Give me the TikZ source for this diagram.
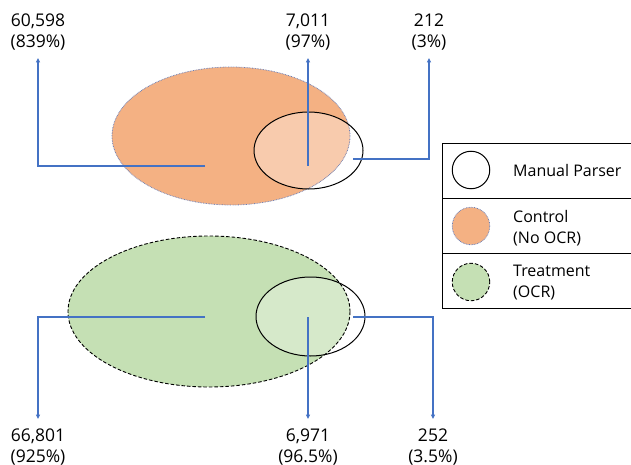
\documentclass[tikz,border=0pt]{standalone}
\usepackage{fontspec}
\setmainfont{Open Sans}
\usetikzlibrary{arrows.meta}
\definecolor{orangefill}{HTML}{F4B183}
\definecolor{orangelight}{HTML}{F8CBAD}
\definecolor{greenfill}{HTML}{C5E0B4}
\definecolor{greenlight}{HTML}{D6E9CA}
\definecolor{arrowblue}{HTML}{4472C4}
\definecolor{dotblue}{HTML}{6A7FB8}
\tikzset{
  arr/.style={draw=arrowblue, line width=1.1pt, -{Triangle[length=4.5pt,width=4pt]}},
  lab/.style={align=center, inner sep=0pt, font=\fontsize{17.5}{21}\selectfont},
  leg/.style={align=left, anchor=west, inner sep=0pt, font=\fontsize{16}{21}\selectfont},
  ctrlborder/.style={draw=dotblue, line width=0.8pt, dash pattern=on 0.7pt off 0.9pt},
  treatborder/.style={draw=black, line width=0.9pt, dash pattern=on 3.5pt off 2pt},
  parser/.style={draw=black, line width=1pt},
}
\begin{document}
\begin{tikzpicture}[x=1pt,y=-1pt]
\useasboundingbox (0,0) rectangle (631,465);
% ---------- Control (top) ----------
\coordinate (oc) at (231,136);
\coordinate (mc) at (308.5,150.5);
\fill[orangefill] (oc) ellipse [x radius=119, y radius=69];
\begin{scope}
  \clip (oc) ellipse [x radius=119, y radius=69];
  \fill[orangelight] (mc) ellipse [x radius=54.5, y radius=38.5];
\end{scope}
\path[ctrlborder] (oc) ellipse [x radius=119, y radius=69];
\path[parser] (mc) ellipse [x radius=54.5, y radius=38.5];
% ---------- Treatment (bottom) ----------
\coordinate (gc) at (209,311.5);
\coordinate (nc) at (310.5,316.5);
\fill[greenfill] (gc) ellipse [x radius=141, y radius=75.5];
\begin{scope}
  \clip (gc) ellipse [x radius=141, y radius=75.5];
  \fill[greenlight] (nc) ellipse [x radius=54.5, y radius=39.5];
\end{scope}
\path[treatborder] (gc) ellipse [x radius=141, y radius=75.5];
\path[parser] (nc) ellipse [x radius=54.5, y radius=39.5];
% ---------- top labels ----------
\node[lab] (l1) at (38,31.6) {60,598\\(839\%)};
\node[lab] (l2) at (308,31.6) {7,011\\(97\%)};
\node[lab] (l3) at (429,31.6) {212\\(3\%)};
\coordinate (t1) at (38,58);
\coordinate (t2) at (308,58);
\coordinate (t3) at (429,58);
\coordinate (s1) at (205,166);
\coordinate (s2) at (308,166);
\coordinate (s3) at (353,159);
\draw[arr] (s1) -| (t1);
\draw[arr] (s2) -- (t2);
\draw[arr] (s3) -| (t3);
% ---------- bottom labels ----------
\node[lab] (b1) at (38,446.7) {66,801\\(925\%)};
\node[lab] (b2) at (308,446.7) {6,971\\(96.5\%)};
\node[lab] (b3) at (433,446.7) {252\\(3.5\%)};
\coordinate (u1) at (38,419);
\coordinate (u2) at (308,419);
\coordinate (u3) at (433,419);
\coordinate (r1) at (205,317);
\coordinate (r2) at (308,317);
\coordinate (r3) at (353,317);
\draw[arr] (r1) -| (u1);
\draw[arr] (r2) -- (u2);
\draw[arr] (r3) -| (u3);
% ---------- legend ----------
\draw[black, line width=1pt] (632,144) -- (442,144) -- (442,308) -- (632,308);
\draw[black, line width=1pt] (442,198) -- (632,198);
\draw[black, line width=1pt] (442,253) -- (632,253);
\node[circle, parser, fill=white, minimum size=37.5pt, inner sep=0pt] (k1) at (471,170) {};
\node[circle, ctrlborder, fill=orangefill, minimum size=37.5pt, inner sep=0pt] (k2) at (471,226) {};
\node[circle, treatborder, fill=greenfill, minimum size=37.5pt, inner sep=0pt] (k3) at (471,282) {};
\node[leg] (e1) at (513,171) {Manual Parser};
\node[leg] (e2) at (513,228) {Control\\(No OCR)};
\node[leg] (e3) at (513,283) {Treatment\\(OCR)};
\end{tikzpicture}
\end{document}
